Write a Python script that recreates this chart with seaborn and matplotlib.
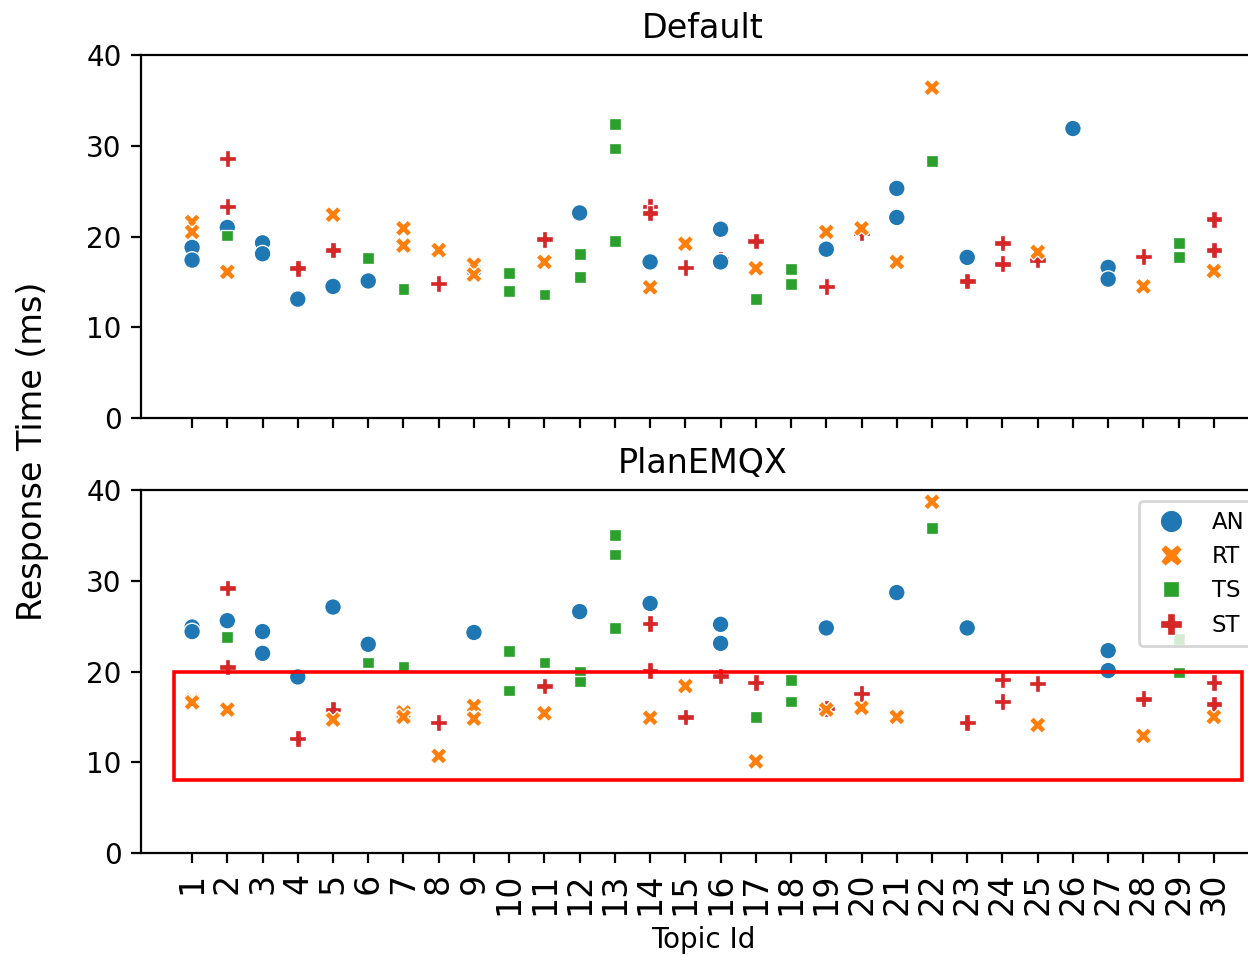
import matplotlib
matplotlib.use("Agg")
import matplotlib.pyplot as plt
import seaborn as sns
import pandas as pd
from matplotlib.patches import Rectangle

methods = ["AN", "RT", "TS", "ST"]
panels = ["Default", "PlanEMQX"]
topics = list(range(1, 31))

# ---- Default panel ----
default_an_topic = [1, 1, 2, 3, 3, 4, 5, 6, 9, 12, 14, 16, 16, 19, 21, 21, 23, 26, 27, 27]
default_an_ms = [18.8, 17.4, 21.0, 19.3, 18.1, 13.1, 14.5, 15.1, 16.3, 22.6, 17.2, 20.8, 17.2, 18.6, 25.3, 22.1, 17.7, 31.9, 16.6, 15.3]
default_rt_topic = [1, 1, 2, 5, 7, 7, 8, 9, 9, 11, 14, 15, 17, 19, 20, 21, 22, 25, 28, 30]
default_rt_ms = [21.6, 20.5, 16.1, 22.4, 20.9, 19.0, 18.5, 16.9, 15.8, 17.2, 14.4, 19.2, 16.5, 20.5, 20.9, 17.2, 36.4, 18.3, 14.5, 16.2]
default_ts_topic = [2, 6, 7, 10, 10, 11, 12, 12, 13, 13, 13, 17, 18, 18, 22, 29, 29]
default_ts_ms = [20.1, 17.6, 14.2, 16.0, 14.0, 13.6, 18.1, 15.5, 32.4, 29.7, 19.5, 13.1, 16.4, 14.8, 28.3, 19.3, 17.7]
default_st_topic = [2, 2, 4, 5, 8, 11, 14, 14, 15, 16, 17, 19, 20, 23, 24, 24, 25, 28, 30, 30]
default_st_ms = [28.6, 23.3, 16.5, 18.5, 14.8, 19.7, 23.3, 22.6, 16.6, 17.5, 19.5, 14.5, 20.4, 15.1, 19.3, 17.0, 17.4, 17.8, 21.9, 18.5]

# ---- PlanEMQX panel ----
plan_an_topic = [1, 1, 2, 3, 3, 4, 5, 6, 9, 12, 14, 16, 16, 19, 21, 23, 27, 27]
plan_an_ms = [24.9, 24.4, 25.6, 24.4, 22.0, 19.4, 27.1, 23.0, 24.3, 26.6, 27.5, 25.2, 23.1, 24.8, 28.7, 24.8, 22.3, 20.1]
plan_rt_topic = [1, 1, 2, 5, 7, 7, 8, 9, 9, 11, 14, 15, 17, 19, 20, 21, 22, 25, 28, 30]
plan_rt_ms = [16.8, 16.6, 15.8, 14.7, 15.5, 15.0, 10.7, 16.2, 14.8, 15.4, 14.9, 18.4, 10.1, 15.8, 16.0, 15.0, 38.7, 14.1, 12.9, 15.0]
plan_ts_topic = [2, 6, 7, 10, 10, 11, 12, 12, 13, 13, 13, 17, 18, 18, 22, 29, 29]
plan_ts_ms = [23.8, 21.0, 20.5, 22.3, 17.9, 21.0, 20.0, 18.9, 35.0, 32.9, 24.8, 15.0, 19.1, 16.7, 35.8, 23.6, 19.9]
plan_st_topic = [2, 2, 4, 5, 8, 11, 14, 14, 15, 16, 17, 19, 20, 23, 24, 24, 25, 28, 30, 30]
plan_st_ms = [29.2, 20.5, 12.6, 15.8, 14.4, 18.4, 25.3, 20.1, 15.0, 19.5, 18.8, 15.9, 17.6, 14.4, 19.1, 16.7, 18.7, 17.0, 18.8, 16.4]

series = {
    "Default": {"AN": (default_an_topic, default_an_ms), "RT": (default_rt_topic, default_rt_ms),
                "TS": (default_ts_topic, default_ts_ms), "ST": (default_st_topic, default_st_ms)},
    "PlanEMQX": {"AN": (plan_an_topic, plan_an_ms), "RT": (plan_rt_topic, plan_rt_ms),
                 "TS": (plan_ts_topic, plan_ts_ms), "ST": (plan_st_topic, plan_st_ms)},
}
draw_order = ["ST", "AN", "RT", "TS"]

def frame(panel):
    parts = []
    for m in draw_order:
        t, v = series[panel][m]
        parts.append(pd.DataFrame({"Topic": t, "Time": v, "Method": m}))
    return pd.concat(parts, ignore_index=True)

fig = plt.figure(figsize=(6.24, 4.78), dpi=200)
ax1 = fig.add_axes([0.11298, 0.56276, 0.9006, 0.3797])
ax2 = fig.add_axes([0.11298, 0.10774, 0.9006, 0.3797], sharex=ax1)

for ax, panel in zip([ax1, ax2], panels):
    sns.scatterplot(data=frame(panel), x="Topic", y="Time", hue="Method", style="Method",
                    hue_order=methods, style_order=methods, ax=ax, legend=(panel == "PlanEMQX"))
    ax.set_title(panel, fontsize=12)
    ax.set_ylim(0, 40)
    ax.set_yticks([0, 10, 20, 30, 40])
    ax.set_ylabel("")
    ax.set_xticks(topics)
    ax.set_xlim(-0.45, 31.45)

ax1.set_xlabel("")
ax1.tick_params(labelbottom=False)
ax2.set_xticklabels([str(t) for t in topics], rotation=90, fontsize=12)
ax2.set_xlabel("Topic Id")

handles, labels = ax2.get_legend_handles_labels()
ax2.legend(handles, labels, loc="upper right", fontsize=8.2, markerscale=1.35)

ax2.add_patch(Rectangle((0.5, 8), 30.3, 12, fill=False, edgecolor="red", linewidth=1.3, zorder=5))

fig.text(0.026, 0.528, "Response Time (ms)", rotation=90, fontsize=12, ha="center", va="center")

fig.savefig("out.png", dpi=200)
